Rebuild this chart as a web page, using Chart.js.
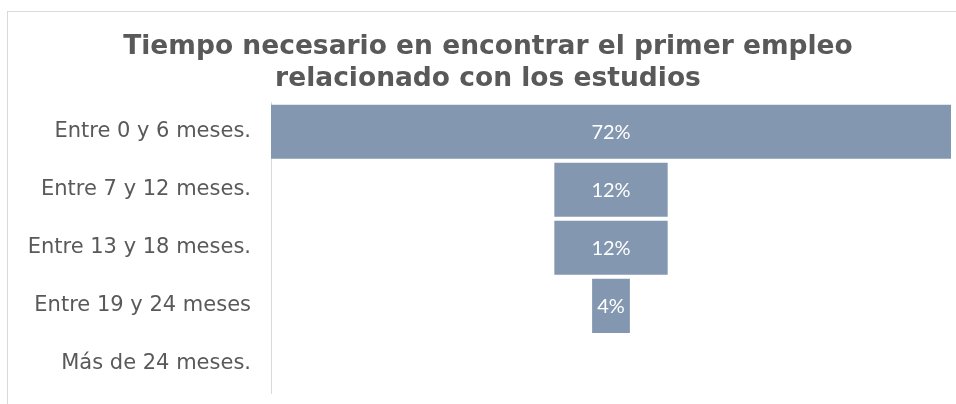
<!DOCTYPE html>
<html><head><meta charset="utf-8">
<script src="https://cdn.jsdelivr.net/npm/chart.js@4/dist/chart.umd.min.js"></script>
<style>html,body{margin:0;padding:0;background:#fff;}#wrap{position:relative;width:956px;height:404px;}</style>
</head><body><div id="wrap"><canvas id="c" width="956" height="404"></canvas></div>
<script>
const categories = ["Entre 0 y 6 meses.", "Entre 7 y 12 meses.", "Entre 13 y 18 meses.", "Entre 19 y 24 meses", "Más de 24 meses."];
const percentages = [72, 12, 12, 4, 0];
const titleLines = ["Tiempo necesario en encontrar el primer empleo", "relacionado con los estudios"];

const maxVal = Math.max(...percentages);
const funnelData = percentages.map(v => [(maxVal - v) / 2, (maxVal + v) / 2]);

const frame = {
  id: 'frame',
  beforeDraw(chart) {
    const ctx = chart.ctx;
    ctx.save();
    ctx.strokeStyle = '#d9d9d9';
    ctx.lineWidth = 1;
    ctx.strokeRect(7.5, 11.5, 1200, 1200);
    ctx.restore();
  }
};
const labelsPlugin = {
  id: 'vlabels',
  afterDatasetsDraw(chart) {
    const ctx = chart.ctx;
    const meta = chart.getDatasetMeta(0);
    ctx.save();
    ctx.fillStyle = '#ffffff';
    ctx.font = '20px Lato, "Open Sans", sans-serif';
    ctx.textAlign = 'center';
    ctx.textBaseline = 'middle';
    meta.data.forEach((bar, i) => {
      if (!percentages[i]) return;
      const cx = (bar.x + bar.base) / 2;
      ctx.fillText(percentages[i] + '%', cx, bar.y + 1);
    });
    ctx.restore();
  }
};

function build() {
  new Chart(document.getElementById('c'), {
    type: 'bar',
    data: {
      labels: categories,
      datasets: [{
        data: funnelData,
        backgroundColor: '#8497b0',
        borderWidth: 0,
        borderSkipped: false,
        barPercentage: 0.93,
        categoryPercentage: 1.0
      }]
    },
    options: {
      indexAxis: 'y',
      responsive: false,
      animation: false,
      layout: { padding: { left: 25, right: 5, top: 0, bottom: 11 } },
      plugins: {
        legend: { display: false },
        tooltip: { enabled: false },
        title: {
          display: true,
          text: titleLines,
          color: '#595959',
          font: { family: '"DejaVu Sans", Verdana, sans-serif', size: 26.5, weight: 'bold', lineHeight: 1.2 },
          padding: { top: 31, bottom: 8 }
        }
      },
      scales: {
        x: { display: false, min: 0, max: maxVal },
        y: {
          grid: { display: false, drawTicks: false },
          border: { display: true, color: '#d9d9d9', width: 1 },
          ticks: {
            color: '#595959',
            padding: 20,
            font: { family: '"DejaVu Sans", Verdana, sans-serif', size: 21 }
          },
          afterFit(scale) { scale.width = 246; scale.paddingTop = 0; scale.paddingBottom = 0; }
        }
      }
    },
    plugins: [frame, labelsPlugin]
  });
}
Promise.all([
  document.fonts.load('20px Lato'),
  document.fonts.load('21px "DejaVu Sans"'),
  document.fonts.load('bold 26px "DejaVu Sans"')
]).then(build, build);
</script></body></html>
